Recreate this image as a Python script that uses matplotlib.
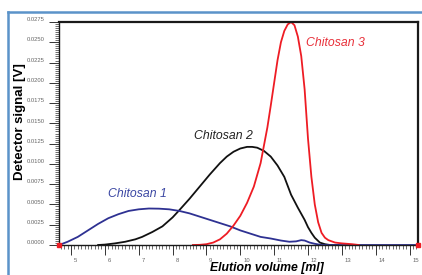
import numpy as np
import matplotlib
matplotlib.use('Agg')
import matplotlib.pyplot as plt
from matplotlib.ticker import MultipleLocator, FormatStrFormatter
from matplotlib.lines import Line2D
from matplotlib.transforms import ScaledTranslation

plt.rcParams['font.family'] = ['Liberation Sans', 'DejaVu Sans']

# Elution volume [ml] and detector signal [V]
vol_1 = [4.65, 4.9, 5.2, 5.5, 5.8, 6.1, 6.4, 6.7, 7.0, 7.3, 7.6, 7.9, 8.2, 8.5, 8.8,
         9.1, 9.4, 9.7, 10.0, 10.3, 10.6, 10.9, 11.2, 11.45, 11.65, 11.8, 11.9, 12.05,
         12.2, 12.4, 13.0, 14.0, 15.24]
sig_1 = [0.0, 0.0004, 0.0010, 0.0018, 0.0026, 0.0033, 0.0038, 0.0042, 0.0044, 0.0045,
         0.00448, 0.0044, 0.0042, 0.0039, 0.0035, 0.0031, 0.0027, 0.0023, 0.0018, 0.0014,
         0.0010, 0.0008, 0.00055, 0.0004, 0.00045, 0.0006, 0.00055, 0.0003, 0.00015, 0.0,
         0.0, 0.0, 0.0]

vol_2 = [5.8, 6.0, 6.3, 6.6, 6.9, 7.1, 7.4, 7.7, 8.0, 8.2, 8.5, 8.8, 9.1, 9.4, 9.6,
         9.8, 10.0, 10.2, 10.35, 10.5, 10.7, 10.9, 11.1, 11.3, 11.5, 11.7, 11.9, 12.0,
         12.1, 12.2, 12.35, 12.5, 12.65, 12.9]
sig_2 = [0.0, 0.00005, 0.0002, 0.0004, 0.0007, 0.0010, 0.0016, 0.0023, 0.0034, 0.0043,
         0.0057, 0.0072, 0.0087, 0.0101, 0.0109, 0.0115, 0.0119, 0.0121, 0.0121, 0.0120,
         0.0116, 0.0109, 0.0098, 0.0084, 0.0062, 0.0046, 0.0031, 0.0022, 0.0015, 0.0009,
         0.0003, 0.0001, 0.0, 0.0]

vol_3 = [8.6, 8.8, 9.0, 9.2, 9.4, 9.6, 9.8, 10.0, 10.2, 10.4, 10.6, 10.8, 10.9, 11.0,
         11.1, 11.2, 11.3, 11.4, 11.5, 11.6, 11.7, 11.8, 11.9, 12.0, 12.1, 12.2, 12.3,
         12.4, 12.5, 12.6, 12.8, 13.0, 13.3, 13.5]
sig_3 = [0.0, 0.00002, 0.0001, 0.0003, 0.0007, 0.0014, 0.0024, 0.0036, 0.0052, 0.0072,
         0.0101, 0.0145, 0.0172, 0.0200, 0.0228, 0.0250, 0.0264, 0.0272, 0.0275, 0.0271,
         0.0257, 0.0233, 0.0192, 0.0131, 0.0084, 0.0050, 0.0028, 0.0015, 0.0009, 0.0006,
         0.0003, 0.0002, 0.0001, 0.0]

names = ['Chitosan 1', 'Chitosan 2', 'Chitosan 3']
line_colors = ['#2e3192', '#111111', '#ee1c24']
text_colors = ['#3b47a3', '#222222', '#e8303a']
y_ticks = [0.0, 0.0025, 0.005, 0.0075, 0.01, 0.0125, 0.015, 0.0175, 0.02, 0.0225, 0.025, 0.0275]
x_ticks = [5, 6, 7, 8, 9, 10, 11, 12, 13, 14, 15]

fig = plt.figure(figsize=(4.22, 2.75), dpi=100)
ax = fig.add_axes([59 / 422, 1 - 245 / 275, (417.7 - 59) / 422, 223 / 275])

ax.plot(vol_2, sig_2, color=line_colors[1], lw=1.3)
ax.plot(vol_1, sig_1, color=line_colors[0], lw=1.3)
ax.plot(vol_3, sig_3, color=line_colors[2], lw=1.3)

xmin, xmax = 4.645, 15.24
ymin, ymax = 0.0, 0.0275
ax.set_xlim(xmin, xmax)
ax.set_ylim(ymin, ymax)

# red cursor markers on the baseline ends
ax.plot([xmin, xmax], [ymin, ymin], 's', color='#ee1c24', ms=3.5, clip_on=False, zorder=5)

for sp in ax.spines.values():
    sp.set_linewidth(1.6)
    sp.set_color('#1a1a1a')
ax.spines['bottom'].set_linewidth(1.0)
ax.spines['left'].set_linewidth(1.0)

ax.set_xticks(x_ticks)
ax.set_yticks(y_ticks)
ax.xaxis.set_minor_locator(MultipleLocator(0.1))
ax.yaxis.set_minor_locator(MultipleLocator(0.00025))
ax.yaxis.set_major_formatter(FormatStrFormatter('%.4f'))
ax.tick_params(axis='both', which='major', direction='out', length=7, width=0.7,
               labelsize=4.2, labelcolor='#666666', color='#333333', pad=1.5)
ax.tick_params(axis='both', which='minor', direction='out', length=3, width=0.5,
               color='#333333')

for lab in ax.get_xticklabels():
    lab.set_horizontalalignment('left')
    lab.set_transform(lab.get_transform() + ScaledTranslation(2 / 72, -1 / 72, fig.dpi_scale_trans))
for lab in ax.get_yticklabels():
    lab.set_transform(lab.get_transform() + ScaledTranslation(-2 / 72, 2 / 72, fig.dpi_scale_trans))

ax.text(6.96, 0.0063, names[0], color=text_colors[0], fontsize=8.8, style='italic',
        ha='center', va='center')
ax.text(9.5, 0.01344, names[1], color=text_colors[1], fontsize=8.8, style='italic',
        ha='center', va='center')
ax.text(12.81, 0.0249, names[2], color=text_colors[2], fontsize=8.8, style='italic',
        ha='center', va='center')

fig.text(20 / 422, 1 - 122 / 275, 'Detector signal [V]', rotation=90, fontsize=9.5,
         fontweight='bold', ha='center', va='center')
fig.text(267 / 422, 1 - 268 / 275, 'Elution volume [ml]', fontsize=8.8,
         fontweight='bold', style='italic', ha='center', va='center')

# light blue frame around the panel
fig.add_artist(Line2D([8 / 422, 8 / 422], [0, 1 - 12 / 275], color='#5b93c9', lw=1.8))
fig.add_artist(Line2D([8 / 422, 1], [1 - 12 / 275, 1 - 12 / 275], color='#5b93c9', lw=1.8))

fig.savefig('out.png', dpi=100)
